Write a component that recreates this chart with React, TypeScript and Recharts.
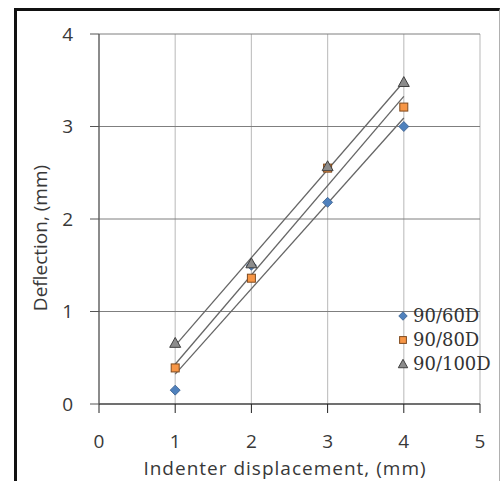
import {
  ComposedChart,
  CartesianGrid,
  XAxis,
  YAxis,
  Scatter,
  Line,
} from "recharts";

// indenter displacement (mm)
const displacement = [1, 2, 3, 4];

// deflection (mm) for each specimen
const deflection60D = [0.15, 1.5, 2.18, 3.0];
const deflection80D = [0.39, 1.36, 2.55, 3.21];
const deflection100D = [0.66, 1.52, 2.57, 3.48];

const xTicks = [0, 1, 2, 3, 4, 5];
const yTicks = [0, 1, 2, 3, 4];

const SERIES = [
  { name: "90/60D", values: deflection60D, fill: "#4F81BD", stroke: "#385D8A", shape: "diamond" },
  { name: "90/80D", values: deflection80D, fill: "#F79646", stroke: "#7F4A1E", shape: "square" },
  { name: "90/100D", values: deflection100D, fill: "#8C8C8C", stroke: "#404040", shape: "triangle" },
];

const toPoints = (values: number[]) =>
  displacement.map((x, i) => ({ x, y: values[i] }));

// least-squares linear trendline over the measured range
const trendline = (values: number[]) => {
  const n = displacement.length;
  const mx = displacement.reduce((a, b) => a + b, 0) / n;
  const my = values.reduce((a, b) => a + b, 0) / n;
  let sxy = 0;
  let sxx = 0;
  displacement.forEach((x, i) => {
    sxy += (x - mx) * (values[i] - my);
    sxx += (x - mx) * (x - mx);
  });
  const slope = sxy / sxx;
  const icpt = my - slope * mx;
  const x0 = displacement[0];
  const x1 = displacement[n - 1];
  return [
    { x: x0, y: icpt + slope * x0 },
    { x: x1, y: icpt + slope * x1 },
  ];
};

const Marker = ({ cx, cy, shape, fill, stroke, scale = 1 }: any) => {
  if (cx == null || cy == null) return null;
  if (shape === "diamond") {
    const r = 5 * scale;
    return (
      <polygon
        points={`${cx},${cy - r} ${cx + r},${cy} ${cx},${cy + r} ${cx - r},${cy}`}
        fill={fill}
        stroke={stroke}
        strokeWidth={0.8}
      />
    );
  }
  if (shape === "square") {
    const r = 4 * scale;
    return (
      <rect x={cx - r} y={cy - r} width={2 * r} height={2 * r} fill={fill} stroke={stroke} strokeWidth={1} />
    );
  }
  const r = 5.5 * scale;
  return (
    <polygon
      points={`${cx},${cy - r} ${cx + r},${cy + r * 0.8} ${cx - r},${cy + r * 0.8}`}
      fill={fill}
      stroke={stroke}
      strokeWidth={1}
    />
  );
};

const SeriesLegend = () => (
  <div
    style={{
      position: "absolute",
      left: 396,
      top: 304,
      fontFamily: "'DejaVu Serif', serif",
      fontSize: 18,
      color: "#333",
      lineHeight: "24px",
    }}
  >
    {SERIES.map((s) => (
      <div key={s.name} style={{ display: "flex", alignItems: "center", height: 24 }}>
        <svg width={14} height={14} style={{ marginRight: 3 }}>
          <Marker cx={7} cy={7} shape={s.shape} fill={s.fill} stroke={s.stroke} scale={0.85} />
        </svg>
        <span>{s.name}</span>
      </div>
    ))}
  </div>
);

export default function App() {
  return (
    <div style={{ position: "absolute", left: 0, top: 0, width: 500, height: 481, background: "#fff" }}>
      <div
        style={{
          position: "absolute",
          left: 14,
          top: 8,
          width: 482,
          height: 473,
          borderTop: "3px solid #111",
          borderLeft: "3px solid #111",
          borderRight: "1px solid #b0b0b0",
        }}
      />
      <div style={{ position: "absolute", left: 0, top: 0 }}>
        <ComposedChart
          width={500}
          height={481}
          margin={{ top: 34, right: 20, left: 0, bottom: 0 }}
          style={{ fontFamily: "'Open Sans', sans-serif" }}
        >
          <CartesianGrid horizontal={false} stroke="#c4c4c4" strokeWidth={1.2} />
          <CartesianGrid vertical={false} stroke="#7f7f7f" strokeWidth={1} />
          <XAxis
            type="number"
            dataKey="x"
            domain={[0, 5]}
            ticks={xTicks}
            allowDataOverflow
            height={77}
            tickSize={9}
            tickMargin={22}
            axisLine={{ stroke: "#222", strokeWidth: 1.2 }}
            tickLine={{ stroke: "#222" }}
            tick={{ fill: "#383838", fontSize: 19 }}
          />
          <YAxis
            type="number"
            dataKey="y"
            domain={[0, 4]}
            ticks={yTicks}
            allowDataOverflow
            width={99}
            tickSize={9}
            tickMargin={17}
            axisLine={{ stroke: "#555", strokeWidth: 1.2 }}
            tickLine={{ stroke: "#555" }}
            tick={{ fill: "#383838", fontSize: 19 }}
          />
          {SERIES.map((s) => (
            <Line
              key={s.name + "-trend"}
              data={trendline(s.values)}
              dataKey="y"
              stroke="#666"
              strokeWidth={1.3}
              dot={false}
              activeDot={false}
              isAnimationActive={false}
            />
          ))}
          {SERIES.map((s) => (
            <Scatter
              key={s.name}
              name={s.name}
              data={toPoints(s.values)}
              dataKey="y"
              fill={s.fill}
              shape={(p: any) => (
                <Marker cx={p.cx} cy={p.cy} shape={s.shape} fill={s.fill} stroke={s.stroke} />
              )}
              isAnimationActive={false}
            />
          ))}
          <text x={285} y={475} textAnchor="middle" fill="#383838" fontSize={19} letterSpacing={1}>
            Indenter displacement, (mm)
          </text>
          <text
            x={40}
            y={238}
            textAnchor="middle"
            dominantBaseline="central"
            fill="#383838"
            fontSize={19}
            transform="rotate(-90, 40, 238)"
          >
            Deflection, (mm)
          </text>
        </ComposedChart>
      </div>
      <SeriesLegend />
    </div>
  );
}
